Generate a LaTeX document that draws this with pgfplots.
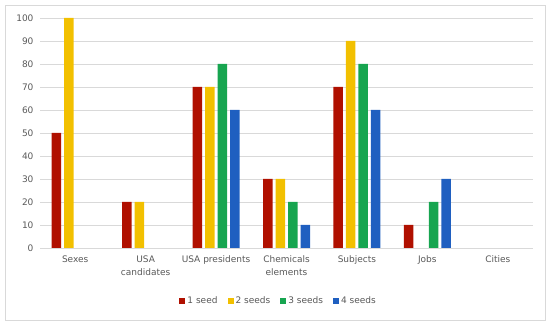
\documentclass[border=0pt]{standalone}
\usepackage{fontspec}
\setmainfont{DejaVu Sans}
\usepackage{pgfplots}
\pgfplotsset{compat=1.18}
\definecolor{cA}{HTML}{B01000}
\definecolor{cB}{HTML}{F2C000}
\definecolor{cC}{HTML}{17A550}
\definecolor{cD}{HTML}{1F5FC0}
\definecolor{txt}{HTML}{595959}
\definecolor{gridc}{HTML}{D9D9D9}
\begin{document}
\begin{tikzpicture}
\begin{axis}[name=ax,
  scale only axis, width=493pt, height=230pt,
  ymin=0, ymax=100, ytick={0,10,...,100},
  xmin=-0.5, xmax=6.5, xtick={0,...,6},
  xticklabels={Sexes,USA\\candidates,USA presidents,Chemicals\\elements,Subjects,Jobs,Cities},
  xticklabel style={align=center, yshift=-4pt, text=txt, font=\fontsize{9}{13}\selectfont},
  yticklabel style={text=txt, font=\fontsize{9}{11}\selectfont, xshift=-3pt},
  /pgf/number format/assume math mode=true,
  axis line style={draw=none},
  major tick length=0pt,
  xmajorgrids=false, ymajorgrids=true,
  y grid style={draw=gridc, line width=0.8pt},
  ybar, bar width=9.5pt,
  legend columns=4,
  legend style={at={(0.484,-0.2304)}, anchor=center, draw=none, font=\fontsize{9}{11}\selectfont, text=txt,
    /tikz/every even column/.append style={column sep=8pt}},
  legend image code/.code={\fill[#1] (0pt,-3pt) rectangle (6pt,3pt);},
]
\addplot[fill=cA, draw=none, bar shift=-18.75pt] coordinates {(0,50) (1,20) (2,70) (3,30) (4,70) (5,10)};
\addplot[fill=cB, draw=none, bar shift=-6.25pt] coordinates {(0,100) (1,20) (2,70) (3,30) (4,90)};
\addplot[fill=cC, draw=none, bar shift=6.25pt] coordinates {(2,80) (3,20) (4,80) (5,20)};
\addplot[fill=cD, draw=none, bar shift=18.75pt] coordinates {(2,60) (3,10) (4,60) (5,30)};
\legend{1 seed, 2 seeds, 3 seeds, 4 seeds}
\end{axis}
\draw[gridc, line width=0.8pt] ([shift={(-35pt,-72pt)}]ax.south west) rectangle ([shift={(12pt,13pt)}]ax.north east);
\path ([shift={(-40pt,-77pt)}]ax.south west) rectangle ([shift={(17pt,18pt)}]ax.north east);
\end{tikzpicture}
\end{document}
